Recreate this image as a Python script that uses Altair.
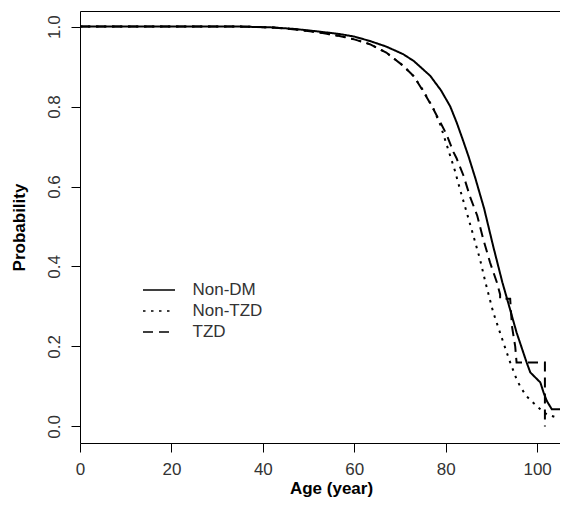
import altair as alt
import pandas as pd

series_names = ["Non-DM", "Non-TZD", "TZD"]

nondm_age = [0, 35, 42, 47, 52, 57, 60, 63.4, 67, 70.7, 73, 76.6, 79, 81, 82.4, 83.8, 85, 86.5,
             88.4, 90.4, 92.4, 93.4, 95.5, 97.7, 98.5, 100.7, 101.4, 102.1, 103.2, 106.8]
nondm_prob = [1.0, 1.0, 0.998, 0.994, 0.988, 0.981, 0.975, 0.964, 0.95, 0.931, 0.914, 0.877, 0.84,
              0.80, 0.76, 0.715, 0.675, 0.62, 0.545, 0.45, 0.36, 0.32, 0.235, 0.16, 0.135, 0.11,
              0.085, 0.064, 0.043, 0.043]

nontzd_age = [0, 35, 42, 47, 52, 57, 60, 63.4, 67, 70.7, 73, 75.1, 77.3, 78.8, 80.5, 82, 83.2,
              84.6, 86.1, 87.5, 88.7, 90.4, 92.6, 94.1, 95.5, 96.3, 97.5, 98.5, 100.7, 102.1, 104.3]
nontzd_prob = [1.0, 1.0, 0.998, 0.993, 0.986, 0.976, 0.968, 0.956, 0.935, 0.902, 0.876, 0.84, 0.795,
               0.755, 0.694, 0.64, 0.59, 0.535, 0.475, 0.418, 0.36, 0.285, 0.21, 0.16, 0.118, 0.10,
               0.078, 0.066, 0.043, 0.03, 0.022]

tzd_age = [0, 35, 42, 47, 52, 57, 60, 63.4, 67, 70.7, 73, 75.1, 77, 78.8, 80.2, 81.7, 82.4, 83.9,
           85.3, 86.9, 88.2, 89.7, 91.2, 91.9, 91.9, 94.1, 94.5, 95.2, 95.5, 101.7, 101.7]
tzd_prob = [1.0, 1.0, 0.998, 0.993, 0.986, 0.976, 0.968, 0.956, 0.935, 0.902, 0.876, 0.838, 0.80,
            0.761, 0.73, 0.686, 0.67, 0.627, 0.575, 0.527, 0.469, 0.41, 0.36, 0.33, 0.319, 0.319,
            0.25, 0.20, 0.16, 0.16, 0.0]

x_ticks = [0, 20, 40, 60, 80, 100]
y_ticks = [0.0, 0.2, 0.4, 0.6, 0.8, 1.0]

rows = []
for name, ages, probs in [("Non-DM", nondm_age, nondm_prob),
                          ("Non-TZD", nontzd_age, nontzd_prob),
                          ("TZD", tzd_age, tzd_prob)]:
    for i, (a, p) in enumerate(zip(ages, probs)):
        rows.append({"series": name, "age": a, "prob": p, "order": i})
df = pd.DataFrame(rows)

FONT = "Liberation Sans"

x_scale = alt.Scale(domain=[0, 105.0], nice=False, zero=False)
y_scale = alt.Scale(domain=[-0.0415, 1.039], nice=False, zero=False)
dash_scale = alt.Scale(domain=series_names, range=[[1, 0], [2.5, 5.5], [10, 6]])

lines = alt.Chart(df).mark_line(color="black", strokeWidth=2, clip=True).encode(
    x=alt.X("age:Q", scale=x_scale,
            axis=alt.Axis(values=x_ticks, format="d", title="Age (year)",
                          titleFont=FONT, titleFontSize=17, titleFontWeight="bold",
                          titleColor="black", titleX=251, titleY=50,
                          titleBaseline="alphabetic", titleAlign="center",
                          labelFont=FONT, labelFontSize=17, labelColor="#333",
                          labelPadding=9, labelFlush=False, labelBaseline="top",
                          tickSize=9, tickColor="black", tickWidth=1,
                          domainColor="black", domainWidth=1, grid=False)),
    y=alt.Y("prob:Q", scale=y_scale,
            axis=alt.Axis(values=y_ticks, format=".1f", title="Probability",
                          titleFont=FONT, titleFontSize=17, titleFontWeight="bold",
                          titleColor="black", titleAngle=270, titleX=-56, titleY=216,
                          titleBaseline="alphabetic", titleAlign="center",
                          labelFont=FONT, labelFontSize=17, labelColor="#333",
                          labelAngle=270, labelAlign="center", labelBaseline="alphabetic",
                          labelPadding=12, labelFlush=False,
                          tickSize=9, tickColor="black", tickWidth=1,
                          domainColor="black", domainWidth=1, grid=False)),
    strokeDash=alt.StrokeDash("series:N", scale=dash_scale,
                              legend=alt.Legend(title=None, orient="none", legendX=62,
                                                legendY=268.8, symbolType="stroke",
                                                symbolSize=1024, symbolStrokeWidth=1.5,
                                                symbolStrokeColor="black", clipHeight=20.5,
                                                rowPadding=0, padding=0, labelOffset=16.5,
                                                labelFont=FONT, labelFontSize=17,
                                                labelColor="#333")),
    order="order:Q",
)

top_border = alt.Chart(pd.DataFrame({"age": [0]})).mark_rule(opacity=0).encode(
    x=alt.X("age:Q", scale=x_scale,
            axis=alt.Axis(orient="top", labels=False, ticks=False, domain=True,
                          domainColor="black", domainWidth=1, grid=False, title=None)),
)

chart = alt.layer(lines, top_border).resolve_axis(x="independent").properties(
    width=480, height=432,
    autosize=alt.AutoSizeParams(type="none"),
    padding={"left": 72, "top": 3, "right": 0, "bottom": 54},
).configure_view(stroke=None).configure(background="white")

chart.save("out.html", embed_options={"renderer": "svg", "actions": False})
